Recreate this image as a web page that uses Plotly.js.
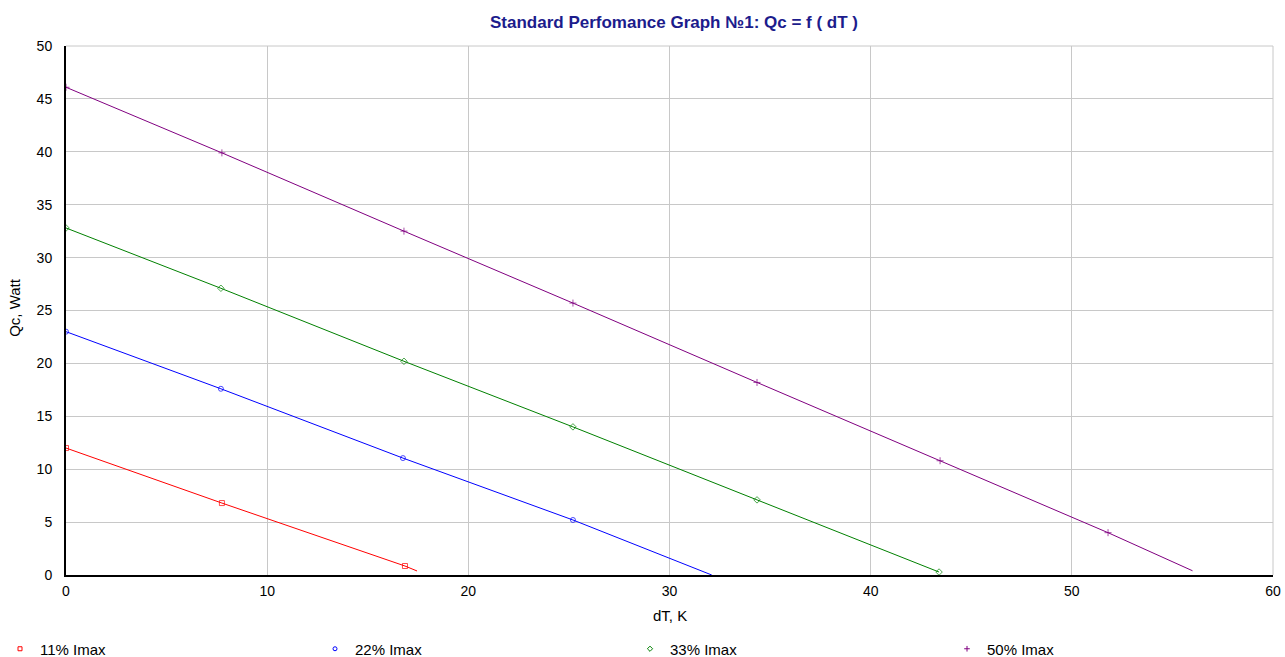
<!DOCTYPE html>
<html><head><meta charset="utf-8">
<script src="https://cdn.plot.ly/plotly-3.0.1.min.js"></script>
<style>body{margin:0;background:#fff}#c{width:1285px;height:657px}</style>
</head><body><div id="c"></div>
<script>
const seriesNames = ["11% Imax", "22% Imax", "33% Imax", "50% Imax"];
const dT11 = [0, 7.75, 16.85, 17.45];
const qc11 = [12.0, 6.8, 0.85, 0.38];
const dT22 = [0, 7.7, 16.75, 25.2, 32.1];
const qc22 = [23.0, 17.6, 11.05, 5.2, 0.0];
const dT33 = [0, 7.7, 16.8, 25.2, 34.35, 43.4];
const qc33 = [32.8, 27.1, 20.2, 14.0, 7.1, 0.28];
const dT50 = [0, 7.75, 16.8, 25.2, 34.35, 43.45, 51.8, 56.0];
const qc50 = [46.1, 39.9, 32.5, 25.7, 18.2, 10.8, 4.0, 0.4];

const colors = ["#ff0000", "#0000ff", "#008000", "#800080"];
const symbols = ["square-open", "circle-open", "diamond-open", "cross-thin-open"];
const xs = [dT11, dT22, dT33, dT50];
const ys = [qc11, qc22, qc33, qc50];
const hasEndMarker = [false, false, true, false];
const legendIds = ["legend", "legend2", "legend3", "legend4"];
const legendX = [0, 315, 630, 947];

const traces = [];
xs.forEach((x, i) => {
  const sizes = x.map((_, j) => (j === x.length - 1 && !hasEndMarker[i]) ? 0 : 5);
  traces.push({
    x: x, y: ys[i], mode: "lines+markers", showlegend: false,
    line: {color: colors[i], width: 1},
    marker: {symbol: symbols[i], size: sizes, color: colors[i], line: {width: 1, color: colors[i]}}
  });
});
seriesNames.forEach((n, i) => {
  traces.push({
    x: [null], y: [null], mode: "markers", name: n, legend: legendIds[i],
    marker: {symbol: symbols[i], size: 4, color: colors[i], line: {width: 1, color: colors[i]}}
  });
});

const layout = {
  width: 1285, height: 657,
  margin: {l: 66, r: 12, t: 46, b: 82},
  paper_bgcolor: "#fff", plot_bgcolor: "#fff",
  font: {family: "Liberation Sans, Arial, sans-serif", size: 14, color: "#000"},
  title: {text: "<b>Standard Perfomance Graph №1: Qc = f ( dT )</b>", xref: "paper", x: (674 - 66) / 1207, xanchor: "center",
          y: 1 - 22 / 657, yanchor: "middle",
          font: {size: 17, color: "#1c1c8c", family: "Liberation Sans, Arial, sans-serif"}},
  xaxis: {range: [0, 60], dtick: 10, showgrid: true, gridcolor: "#c8c8c8", gridwidth: 1,
          zeroline: false, showline: true, linecolor: "#000", linewidth: 2, mirror: false,
          ticks: "outside", ticklen: 2, tickcolor: "rgba(0,0,0,0)", tickfont: {size: 14}, automargin: false},
  yaxis: {range: [0, 50], dtick: 5, showgrid: true, gridcolor: "#c8c8c8", gridwidth: 1,
          zeroline: false, showline: true, linecolor: "#000", linewidth: 2,
          ticks: "outside", ticklen: 9, tickcolor: "rgba(0,0,0,0)", tickfont: {size: 14}, automargin: false},
  annotations: [
    {text: "dT, K", xref: "paper", yref: "paper", x: 0.5, y: -40 / 529, xanchor: "center", yanchor: "middle",
     showarrow: false, font: {size: 15}},
    {text: "Qc, Watt", xref: "paper", yref: "paper", x: -51 / 1207, y: 0.505, xanchor: "center", yanchor: "middle",
     textangle: -90, showarrow: false, font: {size: 15}}
  ],
  shapes: [
    {type: "line", xref: "paper", yref: "paper", x0: 0, x1: 1, y0: 1, y1: 1, line: {color: "#c8c8c8", width: 1}},
    {type: "line", xref: "paper", yref: "paper", x0: 1, x1: 1, y0: 0, y1: 1, line: {color: "#c8c8c8", width: 1}}
  ],
  showlegend: true
};
legendIds.forEach((id, i) => {
  layout[id] = {orientation: "h", xref: "container", x: legendX[i] / 1285, xanchor: "left",
                yref: "container", y: 1 - 649 / 657, yanchor: "middle",
                font: {size: 15}, bgcolor: "rgba(0,0,0,0)", itemwidth: 30};
});
Plotly.newPlot("c", traces, layout, {displayModeBar: false, staticPlot: true});
</script></body></html>
